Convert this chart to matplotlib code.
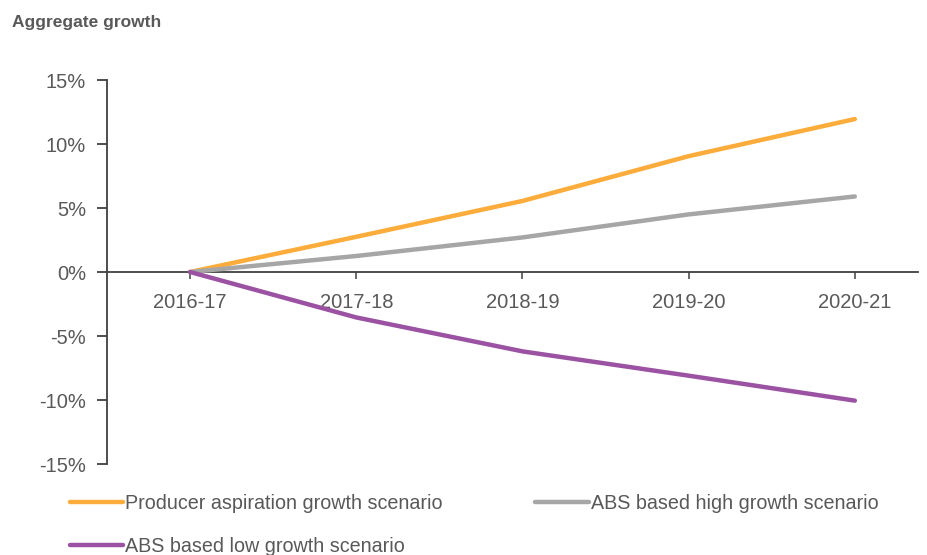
import matplotlib
matplotlib.use("Agg")
import matplotlib.pyplot as plt
from matplotlib.ticker import FuncFormatter

plt.rcParams['font.family'] = ['Liberation Sans', 'DejaVu Sans']

categories = ["2016-17", "2017-18", "2018-19", "2019-20", "2020-21"]
producer = [0.0, 2.75, 5.55, 9.05, 11.95]
abs_high = [0.0, 1.25, 2.7, 4.5, 5.9]
abs_low = [0.0, -3.55, -6.2, -8.1, -10.05]
series_names = ["Producer aspiration growth scenario",
                "ABS based high growth scenario",
                "ABS based low growth scenario"]
yticks = [-15, -10, -5, 0, 5, 10, 15]

c_orange = "#FBAC3A"
c_gray = "#A6A6A6"
c_purple = "#9B52A3"
axis_col = "#404040"
text_col = "#595959"

W, H = 928, 555
fig = plt.figure(figsize=(W / 100, H / 100), dpi=100)
left, right, top, bottom = 107, 918, 80, 464
ax = fig.add_axes([left / W, 1 - bottom / H, (right - left) / W, (bottom - top) / H])

x = list(range(len(categories)))
l1, = ax.plot(x, producer, color=c_orange, lw=3.2, solid_capstyle='round', label=series_names[0])
l2, = ax.plot(x, abs_high, color=c_gray, lw=3.2, solid_capstyle='round', label=series_names[1])
l3, = ax.plot(x, abs_low, color=c_purple, lw=3.2, solid_capstyle='round', label=series_names[2])

ax.set_ylim(-15, 15)
ax.set_xlim(-0.5, 4.38)
ax.set_yticks(yticks)
ax.yaxis.set_major_formatter(FuncFormatter(lambda v, p: f"{int(v)}%"))
ax.set_xticks(x)
ax.set_xticklabels(categories)

for s in ['top', 'right']:
    ax.spines[s].set_visible(False)
ax.spines['bottom'].set_position(('data', 0))
ax.spines['left'].set_color(axis_col)
ax.spines['bottom'].set_color(axis_col)
ax.spines['left'].set_linewidth(1.3)
ax.spines['bottom'].set_linewidth(1.3)
ax.spines['left'].set_zorder(0)
ax.spines['bottom'].set_zorder(0)

ax.tick_params(axis='y', direction='out', length=7, width=1.3, color=axis_col,
               labelcolor=text_col, labelsize=14.5, pad=8)
ax.tick_params(axis='x', direction='out', length=5, width=1.1, color=axis_col,
               labelcolor=text_col, labelsize=14.5, pad=10)

fig.text(12 / W, 1 - 22 / H, "Aggregate growth", fontsize=12.5, fontweight='bold',
         color=text_col, va='center', ha='left')

leg = fig.legend([l1, l3, l2], [series_names[0], series_names[2], series_names[1]],
                 ncol=2, loc='upper left', bbox_to_anchor=(70 / W, 1 - 494 / H),
                 frameon=False, fontsize=14.2, handlelength=2.7, handletextpad=0.1,
                 columnspacing=4.7, labelspacing=1.2, borderpad=0, borderaxespad=0)
for t in leg.get_texts():
    t.set_color(text_col)

fig.savefig("out.png", dpi=100)
